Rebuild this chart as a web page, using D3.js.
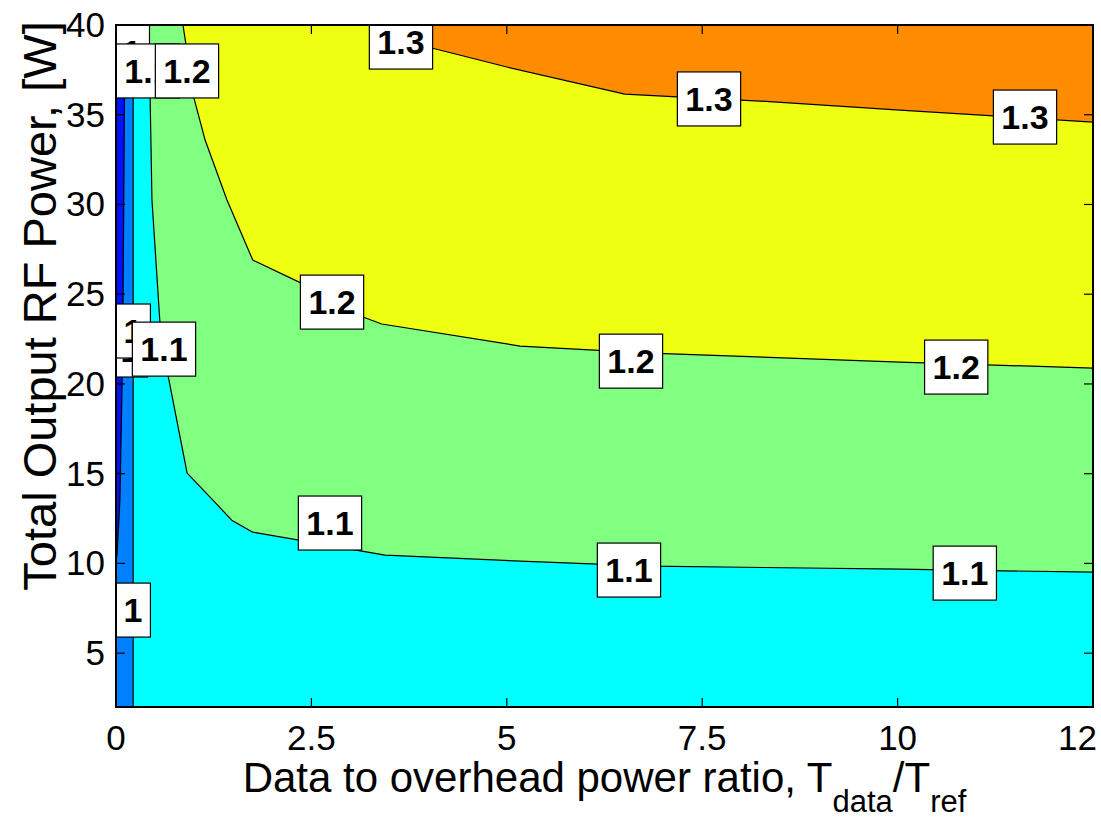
<!DOCTYPE html>
<html>
<head>
<meta charset="utf-8">
<script src="https://cdn.jsdelivr.net/npm/d3@7"></script>
<style>
  html, body { margin: 0; padding: 0; background: #fff; overflow: hidden; }
  svg { display: block; }
  text { font-family: "Liberation Sans", Arial, Helvetica, sans-serif; }
</style>
</head>
<body>
<svg id="chart" width="1101" height="818"></svg>
<script>
// ---------- data ----------
const xDomain = [0, 12.5];
const yDomain = [2, 40];
const xTicks = [0, 2.5, 5, 7.5, 10, 12.5];
const xTickLabels = ["0", "2.5", "5", "7.5", "10", "12"];   // last label is cut to "12" at the figure edge
const yTicks = [5, 10, 15, 20, 25, 30, 35, 40];

// contour levels and fill colours (lowest first)
const levels = [0.9, 1.0, 1.1, 1.2, 1.3];
const baseColor = "#0010FF";
const levelColors = ["#0080FF", "#00FFFF", "#80FF80", "#EEFF12", "#FF8C00"];

// contour lines, [x, y] in data units
const contour09 = [[0.115, 40], [0.09, 24.67], [0.077, 19.94], [0.05, 13.53], [0.013, 10.46], [0, 10.18]];
const contour10 = [[0.22, 40], [0.22, 2]];
const contour11 = [[0.42, 40], [0.46, 30.25], [0.56, 23.56], [0.67, 20.38], [0.91, 15.03], [1.24, 13.53],
                   [1.48, 12.41], [1.75, 11.74], [2.34, 11.30], [3.44, 10.46], [5.17, 10.13], [6.83, 9.85],
                   [10.03, 9.68], [12.5, 9.51]];
const contour12 = [[0.857, 40], [1.0, 35.88], [1.14, 33.59], [1.42, 30.25], [1.75, 26.90], [2.37, 25.62],
                   [3.16, 23.73], [3.40, 23.34], [5.17, 22.11], [6.83, 21.72], [10.03, 21.22], [12.5, 20.88]];
const contour13 = [[3.57, 40], [4.04, 38.72], [5.0, 37.66], [6.51, 36.15], [7.18, 35.99], [8.24, 35.76],
                   [10.03, 35.26], [12.5, 34.59]];

// contour labels (drawing order matters: later ones cover earlier ones)
const labelText = ["1", "1.1", "1.2", "1.3", "1.3", "1.3", "1", "1", "1.1", "1.2", "1.2", "1.2", "1.1", "1.1", "1.1", "1"];
const labelX =    [0.205, 0.409, 0.908, 3.646, 7.587, 11.63, 0.179, 0.217, 0.614, 2.764, 6.589, 10.75, 2.738, 6.563, 10.86, 0.217];
const labelY =    [38.50, 37.44, 37.44, 39.05, 35.88, 34.87, 21.89, 22.95, 21.94, 24.56, 21.27, 20.94, 12.25, 9.63, 9.46, 7.40];

// ---------- layout ----------
const svg = d3.select("#chart");
const mLeft = 116, mRight = 1093, mTop = 25, mBottom = 707;

const x = d3.scaleLinear().domain(xDomain).range([mLeft, mRight]);
const y = d3.scaleLinear().domain(yDomain).range([mBottom, mTop]);

svg.append("defs").append("clipPath").attr("id", "plotClip")
  .append("rect").attr("x", mLeft).attr("y", mTop).attr("width", mRight - mLeft).attr("height", mBottom - mTop);

const plot = svg.append("g").attr("clip-path", "url(#plotClip)");

// base colour
plot.append("rect").attr("x", mLeft).attr("y", mTop).attr("width", mRight - mLeft).attr("height", mBottom - mTop)
  .attr("fill", baseColor);

// filled regions (value >= level)
const [x0, x1] = xDomain, [y0, y1] = yDomain;
const regions = [
  contour09.concat([[x0, y0], [x1, y0], [x1, y1]]),
  contour10.concat([[x1, y0], [x1, y1]]),
  contour11.concat([[x1, y1]]),
  contour12.concat([[x1, y1]]),
  contour13.concat([[x1, y1]])
];
const polyLine = d3.line().x(d => x(d[0])).y(d => y(d[1]));
regions.forEach((r, i) => {
  plot.append("path").attr("d", polyLine(r) + "Z").attr("fill", levelColors[i]).attr("stroke", "none");
});

// contour lines
[contour09, contour10, contour11, contour12, contour13].forEach(c => {
  plot.append("path").attr("d", polyLine(c)).attr("fill", "none")
    .attr("stroke", "#000").attr("stroke-width", 1.2).attr("stroke-linejoin", "round");
});

// contour labels
const labFont = 34;
labelText.forEach((t, i) => {
  const g = plot.append("g");
  const tx = g.append("text").attr("x", x(labelX[i])).attr("y", y(labelY[i]) + labFont * 0.36)
    .attr("text-anchor", "middle").attr("font-size", labFont).attr("font-weight", "bold")
    .attr("fill", "#000").text(t);
  const w = tx.node().getComputedTextLength();
  g.insert("rect", "text")
    .attr("x", x(labelX[i]) - w / 2 - 8).attr("y", y(labelY[i]) - 27)
    .attr("width", w + 16).attr("height", 54)
    .attr("fill", "#fff").attr("stroke", "#000").attr("stroke-width", 1.2);
});

// ---------- axes ----------
const tickLen = 9;
const axes = svg.append("g");
axes.append("rect").attr("x", mLeft).attr("y", mTop).attr("width", mRight - mLeft).attr("height", mBottom - mTop)
  .attr("fill", "none").attr("stroke", "#000").attr("stroke-width", 2);

xTicks.forEach((v, i) => {
  axes.append("line").attr("x1", x(v)).attr("x2", x(v)).attr("y1", mBottom).attr("y2", mBottom - tickLen)
    .attr("stroke", "#000").attr("stroke-width", 1.2);
  axes.append("line").attr("x1", x(v)).attr("x2", x(v)).attr("y1", mTop).attr("y2", mTop + tickLen)
    .attr("stroke", "#000").attr("stroke-width", 1.2);
  const last = i === xTicks.length - 1;
  axes.append("text").attr("x", last ? x(v) + 4 : x(v)).attr("y", 750)
    .attr("text-anchor", last ? "end" : "middle")
    .attr("font-size", 35).attr("fill", "#000").text(xTickLabels[i]);
});
yTicks.forEach(v => {
  axes.append("line").attr("x1", mLeft).attr("x2", mLeft + tickLen).attr("y1", y(v)).attr("y2", y(v))
    .attr("stroke", "#000").attr("stroke-width", 1.2);
  axes.append("line").attr("x1", mRight).attr("x2", mRight - tickLen).attr("y1", y(v)).attr("y2", y(v))
    .attr("stroke", "#000").attr("stroke-width", 1.2);
  axes.append("text").attr("x", 105).attr("y", y(v) + 12).attr("text-anchor", "end")
    .attr("font-size", 35).attr("fill", "#000").text(v);
});

// x axis title with subscripts
const xt = axes.append("text").attr("x", (mLeft + mRight) / 2).attr("y", 792).attr("text-anchor", "middle")
  .attr("font-size", 42).attr("fill", "#000");
xt.append("tspan").text("Data to overhead power ratio, T");
xt.append("tspan").attr("font-size", 31).attr("dy", 20).text("data");
xt.append("tspan").attr("dy", -20).text("/T");
xt.append("tspan").attr("font-size", 31).attr("dy", 20).text("ref");

// y axis title
axes.append("text").attr("transform", "translate(56,306) rotate(-90)").attr("text-anchor", "middle")
  .attr("font-size", 47).attr("fill", "#000").text("Total Output RF Power, [W]");
</script>
</body>
</html>
